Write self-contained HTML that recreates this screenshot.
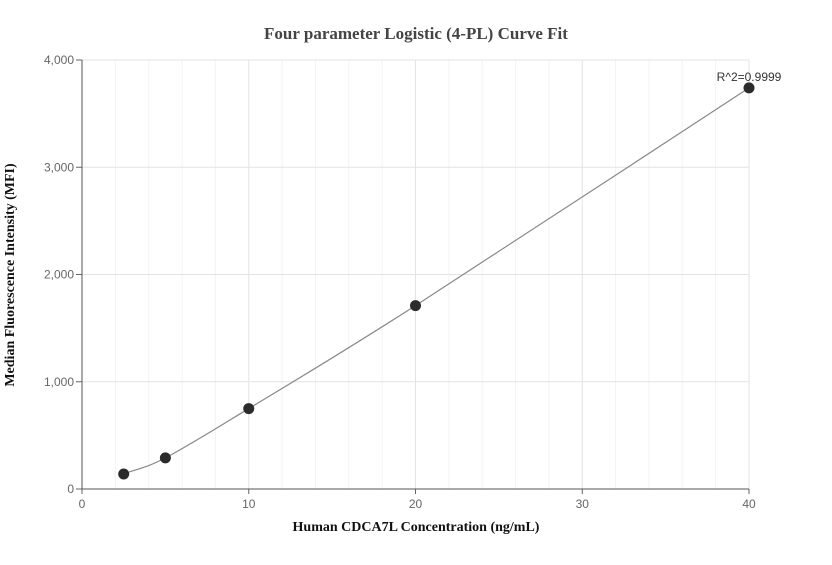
<!DOCTYPE html>
<html><head><meta charset="utf-8"><style>
body{margin:0;background:#fff;width:832px;height:560px;overflow:hidden}
svg text{font-family:"Liberation Sans",sans-serif}
</style></head><body>
<svg id="chart" width="832" height="560" xmlns="http://www.w3.org/2000/svg">
<text x="416" y="39" text-anchor="middle" font-weight="bold" font-size="17" fill="#444" style="font-family:'Liberation Serif',serif">Four parameter Logistic (4-PL) Curve Fit</text>
<text x="416" y="531" text-anchor="middle" font-weight="bold" font-size="14" fill="#111" style="font-family:'Liberation Serif',serif">Human CDCA7L Concentration (ng/mL)</text>
<text transform="translate(14,275) rotate(-90)" text-anchor="middle" font-weight="bold" font-size="14" fill="#111" style="font-family:'Liberation Serif',serif">Median Fluorescence Intensity (MFI)</text>
<g id="grid"></g><g id="axes"></g><g id="series"></g>
<text x="749" y="81" text-anchor="middle" font-size="12" fill="#333">R^2=0.9999</text>
</svg>
<script>
const xTicks=[0,10,20,30,40];
const yTicks=[0,1000,2000,3000,4000];
const yTickLabels=["0","1,000","2,000","3,000","4,000"];
const concentrations=[2.5,5,10,20,40];
const mfiValues=[140,290,750,1710,3740];
const X0=82,X1=749,Y0=489,Y1=60;
const sx=v=>X0+(X1-X0)*v/40, sy=v=>Y0-(Y0-Y1)*v/4000;
const NS="http://www.w3.org/2000/svg";
function mk(p,t,a){const e=document.createElementNS(NS,t);for(const k in a)e.setAttribute(k,a[k]);p.appendChild(e);return e;}
const grid=document.getElementById('grid'),axes=document.getElementById('axes'),series=document.getElementById('series');
for(let v=2;v<40;v+=2){if(v%10===0)continue;const l=mk(grid,'line',{x1:sx(v),x2:sx(v),y1:Y1,y2:Y0,stroke:'#f3f3f3'});

}
xTicks.forEach(v=>{if(v===0)return;const l=mk(grid,'line',{x1:sx(v),x2:sx(v),y1:Y1,y2:Y0,stroke:'#e3e3e3'});

});
yTicks.forEach((v,i)=>{if(v>0){const l=mk(grid,'line',{x1:X0,x2:X1,y1:sy(v),y2:sy(v),stroke:'#e3e3e3'});

}
const t=mk(axes,'line',{x1:X0-6,x2:X0,y1:sy(v),y2:sy(v),stroke:'#666'});


const tx=mk(axes,'text',{x:X0-8,y:sy(v)+4,'text-anchor':'end','font-size':12,fill:'#666'});tx.textContent=yTickLabels[i];

});
xTicks.forEach(v=>{const t=mk(axes,'line',{x1:sx(v),x2:sx(v),y1:Y0,y2:Y0+5,stroke:'#666'});


const tx=mk(axes,'text',{x:sx(v),y:Y0+19,'text-anchor':'middle','font-size':12,fill:'#666'});tx.textContent=v;

});
const ya=mk(axes,'line',{x1:X0,x2:X0,y1:Y1,y2:Y0,stroke:'#555'});


const xa=mk(axes,'line',{x1:X0,x2:X1,y1:Y0,y2:Y0,stroke:'#555'});


const P=concentrations.map((c,i)=>[sx(c),sy(mfiValues[i])]);
const n=P.length;
const ext=(a,b)=>[2*a[0]-b[0],2*a[1]-b[1]];
let d='M'+P[0][0]+','+P[0][1];
for(let i=0;i<n-1;i++){const p0=i>0?P[i-1]:ext(P[0],P[1]),p1=P[i],p2=P[i+1],p3=i+2<n?P[i+2]:ext(P[n-1],P[n-2]);
d+=` C${p1[0]+(p2[0]-p0[0])/6},${p1[1]+(p2[1]-p0[1])/6} ${p2[0]-(p3[0]-p1[0])/6},${p2[1]-(p3[1]-p1[1])/6} ${p2[0]},${p2[1]}`;}
const path=mk(series,'path',{d:d,fill:'none',stroke:'#888','stroke-width':1.2});


P.forEach(p=>{const c=mk(series,'circle',{cx:p[0],cy:p[1],r:5.5,fill:'#2b2b2b'});

});
</script>
</body></html>
